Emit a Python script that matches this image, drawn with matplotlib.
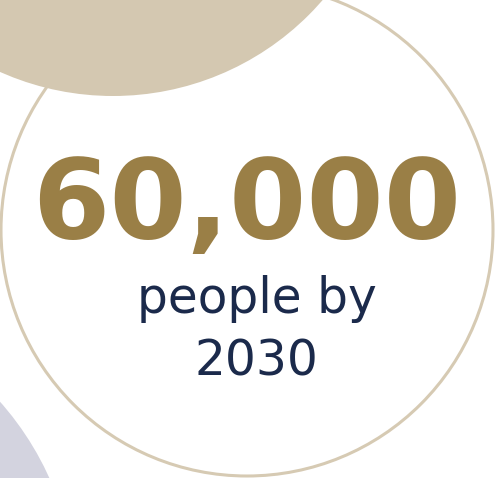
import matplotlib.pyplot as plt
from matplotlib.patches import Circle

# figure content
headline_value = 60000
caption_lines = ["people by", "2030"]

W, H = 496, 478
fig = plt.figure(figsize=(W / 100, H / 100), dpi=100)
ax = fig.add_axes([0, 0, 1, 1])
ax.set_xlim(0, W)
ax.set_ylim(H, 0)
ax.set_aspect('equal')
ax.axis('off')

# background circles (outline first, tan disc sits on top of it)
ax.add_patch(Circle((247, 230), 246, facecolor='none', edgecolor='#d6cab3', lw=2.2))
ax.add_patch(Circle((113, -181), 277, color='#d4c8b1', lw=0))
ax.add_patch(Circle((-226, 602), 302, color='#d3d3df', lw=0))

# big number
ax.text(247, 207, f"{headline_value:,}", ha='center', va='center',
        fontsize=80, fontweight='bold', color='#9a7f46', family='DejaVu Sans')

# caption
ax.text(257, 313, caption_lines[0], ha='center', va='baseline',
        fontsize=35, color='#1b2a4b', family='DejaVu Sans')
ax.text(256, 375, caption_lines[1], ha='center', va='baseline',
        fontsize=35, color='#1b2a4b', family='DejaVu Sans')

fig.savefig('out.png', dpi=100)
